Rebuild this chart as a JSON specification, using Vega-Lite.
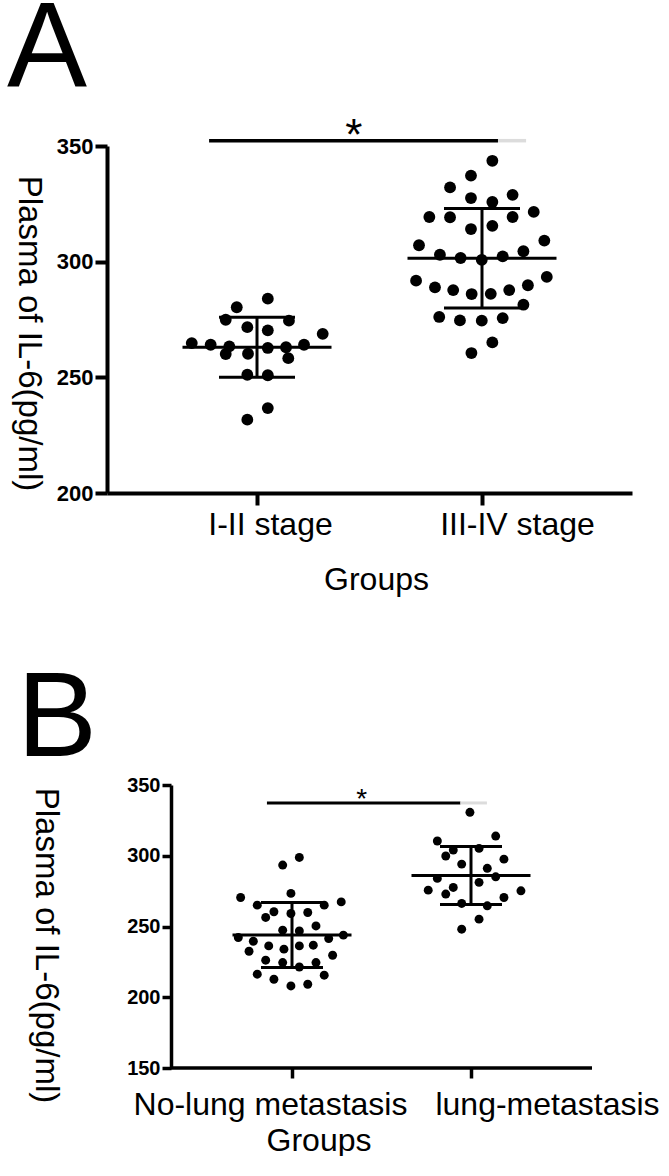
{
  "$schema": "https://vega.github.io/schema/vega-lite/v6.json",
  "padding": {"left": 7, "top": -11, "right": 0, "bottom": 0},
  "config": {
    "view": {"stroke": null},
    "font": "Liberation Sans",
    "axis": {"grid": false, "domainColor": "black", "tickColor": "black", "labelColor": "black", "titleColor": "black", "titleFontWeight": "normal", "labelFlush": false, "labelOverlap": false, "labelLimit": 0, "labelFont": "Liberation Sans", "titleFont": "Liberation Sans"},
    "title": {"color": "black", "fontWeight": "normal", "font": "Liberation Sans"}
  },
  "datasets": {
    "ptsA": [
      {"group": "I-II stage", "pos": 1.048, "il6": 284.0}, {"group": "I-II stage", "pos": 0.910, "il6": 280.3}, {"group": "I-II stage", "pos": 0.861, "il6": 274.9}, {"group": "I-II stage", "pos": 1.142, "il6": 274.5}, {"group": "I-II stage", "pos": 0.957, "il6": 271.7}, {"group": "I-II stage", "pos": 1.048, "il6": 270.3}, {"group": "I-II stage", "pos": 1.292, "il6": 268.8}, {"group": "I-II stage", "pos": 0.710, "il6": 264.8}, {"group": "I-II stage", "pos": 0.794, "il6": 264.1}, {"group": "I-II stage", "pos": 0.877, "il6": 263.4}, {"group": "I-II stage", "pos": 0.861, "il6": 260.1}, {"group": "I-II stage", "pos": 0.960, "il6": 260.2}, {"group": "I-II stage", "pos": 1.048, "il6": 262.7}, {"group": "I-II stage", "pos": 1.129, "il6": 263.0}, {"group": "I-II stage", "pos": 1.209, "il6": 264.1}, {"group": "I-II stage", "pos": 1.139, "il6": 258.3}, {"group": "I-II stage", "pos": 0.957, "il6": 251.1}, {"group": "I-II stage", "pos": 1.048, "il6": 250.9}, {"group": "I-II stage", "pos": 1.048, "il6": 236.7}, {"group": "I-II stage", "pos": 0.957, "il6": 231.7},
      {"group": "III-IV stage", "pos": 2.046, "il6": 343.6}, {"group": "III-IV stage", "pos": 1.951, "il6": 337.2}, {"group": "III-IV stage", "pos": 1.858, "il6": 332.1}, {"group": "III-IV stage", "pos": 1.951, "il6": 327.5}, {"group": "III-IV stage", "pos": 2.046, "il6": 325.8}, {"group": "III-IV stage", "pos": 2.136, "il6": 328.9}, {"group": "III-IV stage", "pos": 1.766, "il6": 319.3}, {"group": "III-IV stage", "pos": 1.858, "il6": 319.2}, {"group": "III-IV stage", "pos": 2.136, "il6": 319.3}, {"group": "III-IV stage", "pos": 2.230, "il6": 321.5}, {"group": "III-IV stage", "pos": 1.951, "il6": 314.1}, {"group": "III-IV stage", "pos": 2.046, "il6": 315.5}, {"group": "III-IV stage", "pos": 1.720, "il6": 307.1}, {"group": "III-IV stage", "pos": 2.277, "il6": 309.1}, {"group": "III-IV stage", "pos": 1.813, "il6": 303.0}, {"group": "III-IV stage", "pos": 1.905, "il6": 301.6}, {"group": "III-IV stage", "pos": 1.999, "il6": 300.8}, {"group": "III-IV stage", "pos": 2.092, "il6": 302.3}, {"group": "III-IV stage", "pos": 2.184, "il6": 304.5}, {"group": "III-IV stage", "pos": 1.707, "il6": 291.8}, {"group": "III-IV stage", "pos": 1.791, "il6": 288.9}, {"group": "III-IV stage", "pos": 1.872, "il6": 287.7}, {"group": "III-IV stage", "pos": 1.954, "il6": 286.0}, {"group": "III-IV stage", "pos": 2.039, "il6": 286.1}, {"group": "III-IV stage", "pos": 2.121, "il6": 287.7}, {"group": "III-IV stage", "pos": 2.204, "il6": 289.8}, {"group": "III-IV stage", "pos": 2.288, "il6": 293.4}, {"group": "III-IV stage", "pos": 2.184, "il6": 281.4}, {"group": "III-IV stage", "pos": 1.810, "il6": 276.1}, {"group": "III-IV stage", "pos": 1.902, "il6": 274.6}, {"group": "III-IV stage", "pos": 1.999, "il6": 274.5}, {"group": "III-IV stage", "pos": 2.092, "il6": 275.6}, {"group": "III-IV stage", "pos": 2.046, "il6": 265.1}, {"group": "III-IV stage", "pos": 1.953, "il6": 260.5}
    ],
    "sumA": [
      {"group": "I-II stage", "pos": 1, "mean": 263, "lo": 250, "hi": 276},
      {"group": "III-IV stage", "pos": 2, "mean": 301.5, "lo": 280, "hi": 323}
    ],
    "sigA": [
      {"part": "main", "x1": 0.787, "x2": 2.071, "y": 352.3},
      {"part": "fade", "x1": 2.071, "x2": 2.196, "y": 352.3}
    ],
    "starA": [{"label": "*", "x": 1.43, "y": 348.4}],
    "ptsB": [
      {"group": "No-lung metastasis", "pos": 1.041, "il6": 298.8}, {"group": "No-lung metastasis", "pos": 0.948, "il6": 293.4}, {"group": "No-lung metastasis", "pos": 0.994, "il6": 273.4}, {"group": "No-lung metastasis", "pos": 0.713, "il6": 270.5}, {"group": "No-lung metastasis", "pos": 0.806, "il6": 265.1}, {"group": "No-lung metastasis", "pos": 1.180, "il6": 265.1}, {"group": "No-lung metastasis", "pos": 1.275, "il6": 267.4}, {"group": "No-lung metastasis", "pos": 0.899, "il6": 260.4}, {"group": "No-lung metastasis", "pos": 0.853, "il6": 256.4}, {"group": "No-lung metastasis", "pos": 0.994, "il6": 259.2}, {"group": "No-lung metastasis", "pos": 1.088, "il6": 259.9}, {"group": "No-lung metastasis", "pos": 1.134, "il6": 250.4}, {"group": "No-lung metastasis", "pos": 0.948, "il6": 247.4}, {"group": "No-lung metastasis", "pos": 1.041, "il6": 246.9}, {"group": "No-lung metastasis", "pos": 0.700, "il6": 242.2}, {"group": "No-lung metastasis", "pos": 0.784, "il6": 239.6}, {"group": "No-lung metastasis", "pos": 0.760, "il6": 232.5}, {"group": "No-lung metastasis", "pos": 0.870, "il6": 236.3}, {"group": "No-lung metastasis", "pos": 0.955, "il6": 234.0}, {"group": "No-lung metastasis", "pos": 1.041, "il6": 236.3}, {"group": "No-lung metastasis", "pos": 1.119, "il6": 236.8}, {"group": "No-lung metastasis", "pos": 1.205, "il6": 241.5}, {"group": "No-lung metastasis", "pos": 1.287, "il6": 243.9}, {"group": "No-lung metastasis", "pos": 1.227, "il6": 229.7}, {"group": "No-lung metastasis", "pos": 0.853, "il6": 226.2}, {"group": "No-lung metastasis", "pos": 0.948, "il6": 224.5}, {"group": "No-lung metastasis", "pos": 1.041, "il6": 221.4}, {"group": "No-lung metastasis", "pos": 1.134, "il6": 224.5}, {"group": "No-lung metastasis", "pos": 0.806, "il6": 216.3}, {"group": "No-lung metastasis", "pos": 1.180, "il6": 215.6}, {"group": "No-lung metastasis", "pos": 0.899, "il6": 212.7}, {"group": "No-lung metastasis", "pos": 0.994, "il6": 208.0}, {"group": "No-lung metastasis", "pos": 1.088, "il6": 209.2},
      {"group": "lung-metastasis", "pos": 1.994, "il6": 330.7}, {"group": "lung-metastasis", "pos": 1.812, "il6": 310.4}, {"group": "lung-metastasis", "pos": 2.138, "il6": 313.9}, {"group": "lung-metastasis", "pos": 1.901, "il6": 304.0}, {"group": "lung-metastasis", "pos": 1.859, "il6": 299.8}, {"group": "lung-metastasis", "pos": 2.045, "il6": 305.2}, {"group": "lung-metastasis", "pos": 2.184, "il6": 297.6}, {"group": "lung-metastasis", "pos": 1.948, "il6": 294.1}, {"group": "lung-metastasis", "pos": 2.091, "il6": 291.1}, {"group": "lung-metastasis", "pos": 1.812, "il6": 284.0}, {"group": "lung-metastasis", "pos": 2.138, "il6": 285.1}, {"group": "lung-metastasis", "pos": 2.045, "il6": 281.2}, {"group": "lung-metastasis", "pos": 1.761, "il6": 275.7}, {"group": "lung-metastasis", "pos": 1.901, "il6": 277.6}, {"group": "lung-metastasis", "pos": 1.859, "il6": 272.9}, {"group": "lung-metastasis", "pos": 2.279, "il6": 275.2}, {"group": "lung-metastasis", "pos": 2.184, "il6": 270.5}, {"group": "lung-metastasis", "pos": 1.948, "il6": 266.3}, {"group": "lung-metastasis", "pos": 2.091, "il6": 264.6}, {"group": "lung-metastasis", "pos": 2.045, "il6": 255.2}, {"group": "lung-metastasis", "pos": 1.948, "il6": 248.1}
    ],
    "sumB": [
      {"group": "No-lung metastasis", "pos": 1, "mean": 244, "lo": 221, "hi": 267},
      {"group": "lung-metastasis", "pos": 2, "mean": 286, "lo": 265.5, "hi": 306.5}
    ],
    "sigB": [
      {"part": "main", "x1": 0.860, "x2": 1.941, "y": 337.3},
      {"part": "fade", "x1": 1.941, "x2": 2.089, "y": 337.3}
    ],
    "starB": [{"label": "*", "x": 1.389, "y": 333.9}],
    "baseB": [{"x1": 0.324, "x2": 2.676, "y": 150}]
  },
  "vconcat": [
    {
      "width": 525,
      "height": 347,
      "title": {"text": "A", "anchor": "start", "frame": "group", "fontSize": 120, "dx": -100, "offset": 4},
      "layer": [
        {
          "data": {"name": "ptsA"},
          "mark": {"type": "circle", "size": 140, "color": "black", "opacity": 1},
          "encoding": {
            "x": {"field": "pos", "type": "quantitative", "scale": {"domain": [0.3333, 2.6667], "nice": false, "zero": false},
              "axis": {"values": [1, 2], "labelExpr": "datum.value == 1 ? 'I-II stage' : 'III-IV stage'", "labelFontSize": 32, "labelPadding": 4,
                "labelOffset": {"condition": {"test": "datum.value == 1", "value": 13}, "value": 35},
                "tickSize": 12, "tickWidth": 4, "domainWidth": 4,
                "title": "Groups", "titleFontSize": 32, "titleX": 269, "titleY": 86, "titleAlign": "center", "titleBaseline": "middle"}},
            "y": {"field": "il6", "type": "quantitative", "scale": {"domain": [200, 350], "nice": false, "zero": false},
              "axis": {"values": [200, 250, 300, 350], "labelFontSize": 22, "labelFontWeight": "bold", "labelPadding": 2, "tickSize": 12, "tickWidth": 4, "domainWidth": 4,
                "title": "Plasma of IL-6(pg/ml)", "titleAngle": 90, "titleFontSize": 33, "titleX": -79, "titleY": 187, "titleAlign": "center", "titleBaseline": "middle"}}
          }
        },
        {
          "data": {"name": "sumA"},
          "mark": {"type": "tick", "orient": "horizontal", "size": 149, "thickness": 3, "color": "black", "opacity": 1},
          "encoding": {"x": {"field": "pos", "type": "quantitative"}, "y": {"field": "mean", "type": "quantitative"}}
        },
        {
          "data": {"name": "sumA"},
          "mark": {"type": "tick", "orient": "horizontal", "size": 76, "thickness": 3, "color": "black", "opacity": 1},
          "encoding": {"x": {"field": "pos", "type": "quantitative"}, "y": {"field": "lo", "type": "quantitative"}}
        },
        {
          "data": {"name": "sumA"},
          "mark": {"type": "tick", "orient": "horizontal", "size": 76, "thickness": 3, "color": "black", "opacity": 1},
          "encoding": {"x": {"field": "pos", "type": "quantitative"}, "y": {"field": "hi", "type": "quantitative"}}
        },
        {
          "data": {"name": "sumA"},
          "mark": {"type": "rule", "strokeWidth": 3, "color": "black"},
          "encoding": {"x": {"field": "pos", "type": "quantitative"}, "y": {"field": "lo", "type": "quantitative"}, "y2": {"field": "hi"}}
        },
        {
          "data": {"name": "sigA"},
          "mark": {"type": "rule", "strokeWidth": 3.5},
          "encoding": {
            "x": {"field": "x1", "type": "quantitative"}, "x2": {"field": "x2"},
            "y": {"field": "y", "type": "quantitative"},
            "color": {"field": "part", "type": "nominal", "scale": {"domain": ["main", "fade"], "range": ["black", "#dcdcdc"]}, "legend": null}
          }
        },
        {
          "data": {"name": "starA"},
          "mark": {"type": "text", "fontSize": 44, "baseline": "alphabetic", "align": "center", "color": "black"},
          "encoding": {"x": {"field": "x", "type": "quantitative"}, "y": {"field": "y", "type": "quantitative"}, "text": {"field": "label"}}
        }
      ]
    },
    {
      "width": 485,
      "height": 283,
      "title": {"text": "B", "anchor": "start", "frame": "group", "fontSize": 120, "dx": -90, "offset": -6},
      "layer": [
        {
          "data": {"name": "ptsB"},
          "mark": {"type": "circle", "size": 80, "color": "black", "opacity": 1},
          "encoding": {
            "x": {"field": "pos", "type": "quantitative", "scale": {"domain": [-0.0335, 2.676], "nice": false, "zero": false},
              "axis": {"values": [1, 2], "labelExpr": "datum.value == 1 ? 'No-lung metastasis' : 'lung-metastasis'", "labelFontSize": 32, "labelPadding": 11,
                "labelOffset": {"condition": {"test": "datum.value == 1", "value": -22}, "value": 76},
                "domain": false, "tickSize": 10, "tickWidth": 3.5,
                "title": "Groups", "titleFontSize": 32, "titleX": 211.5, "titleY": 72, "titleAlign": "center", "titleBaseline": "middle"}},
            "y": {"field": "il6", "type": "quantitative", "scale": {"domain": [150, 350], "nice": false, "zero": false},
              "axis": {"values": [150, 200, 250, 300, 350], "offset": -64, "labelFontSize": 20, "labelFontWeight": "bold", "labelPadding": 2, "tickSize": 9, "tickWidth": 3.5, "domainWidth": 3.5,
                "title": "Plasma of IL-6(pg/ml)", "titleAngle": 90, "titleFontSize": 33, "titleX": -126, "titleY": 160, "titleAlign": "center", "titleBaseline": "middle"}}
          }
        },
        {
          "data": {"name": "baseB"},
          "mark": {"type": "rule", "strokeWidth": 3.5, "color": "black"},
          "encoding": {"x": {"field": "x1", "type": "quantitative"}, "x2": {"field": "x2"}, "y": {"field": "y", "type": "quantitative"}}
        },
        {
          "data": {"name": "sumB"},
          "mark": {"type": "tick", "orient": "horizontal", "size": 119, "thickness": 3, "color": "black", "opacity": 1},
          "encoding": {"x": {"field": "pos", "type": "quantitative"}, "y": {"field": "mean", "type": "quantitative"}}
        },
        {
          "data": {"name": "sumB"},
          "mark": {"type": "tick", "orient": "horizontal", "size": 62, "thickness": 3, "color": "black", "opacity": 1},
          "encoding": {"x": {"field": "pos", "type": "quantitative"}, "y": {"field": "lo", "type": "quantitative"}}
        },
        {
          "data": {"name": "sumB"},
          "mark": {"type": "tick", "orient": "horizontal", "size": 62, "thickness": 3, "color": "black", "opacity": 1},
          "encoding": {"x": {"field": "pos", "type": "quantitative"}, "y": {"field": "hi", "type": "quantitative"}}
        },
        {
          "data": {"name": "sumB"},
          "mark": {"type": "rule", "strokeWidth": 3, "color": "black"},
          "encoding": {"x": {"field": "pos", "type": "quantitative"}, "y": {"field": "lo", "type": "quantitative"}, "y2": {"field": "hi"}}
        },
        {
          "data": {"name": "sigB"},
          "mark": {"type": "rule", "strokeWidth": 3},
          "encoding": {
            "x": {"field": "x1", "type": "quantitative"}, "x2": {"field": "x2"},
            "y": {"field": "y", "type": "quantitative"},
            "color": {"field": "part", "type": "nominal", "scale": {"domain": ["main", "fade"], "range": ["black", "#dcdcdc"]}, "legend": null}
          }
        },
        {
          "data": {"name": "starB"},
          "mark": {"type": "text", "fontSize": 28, "baseline": "alphabetic", "align": "center", "color": "black"},
          "encoding": {"x": {"field": "x", "type": "quantitative"}, "y": {"field": "y", "type": "quantitative"}, "text": {"field": "label"}}
        }
      ]
    }
  ],
  "spacing": 65
}
